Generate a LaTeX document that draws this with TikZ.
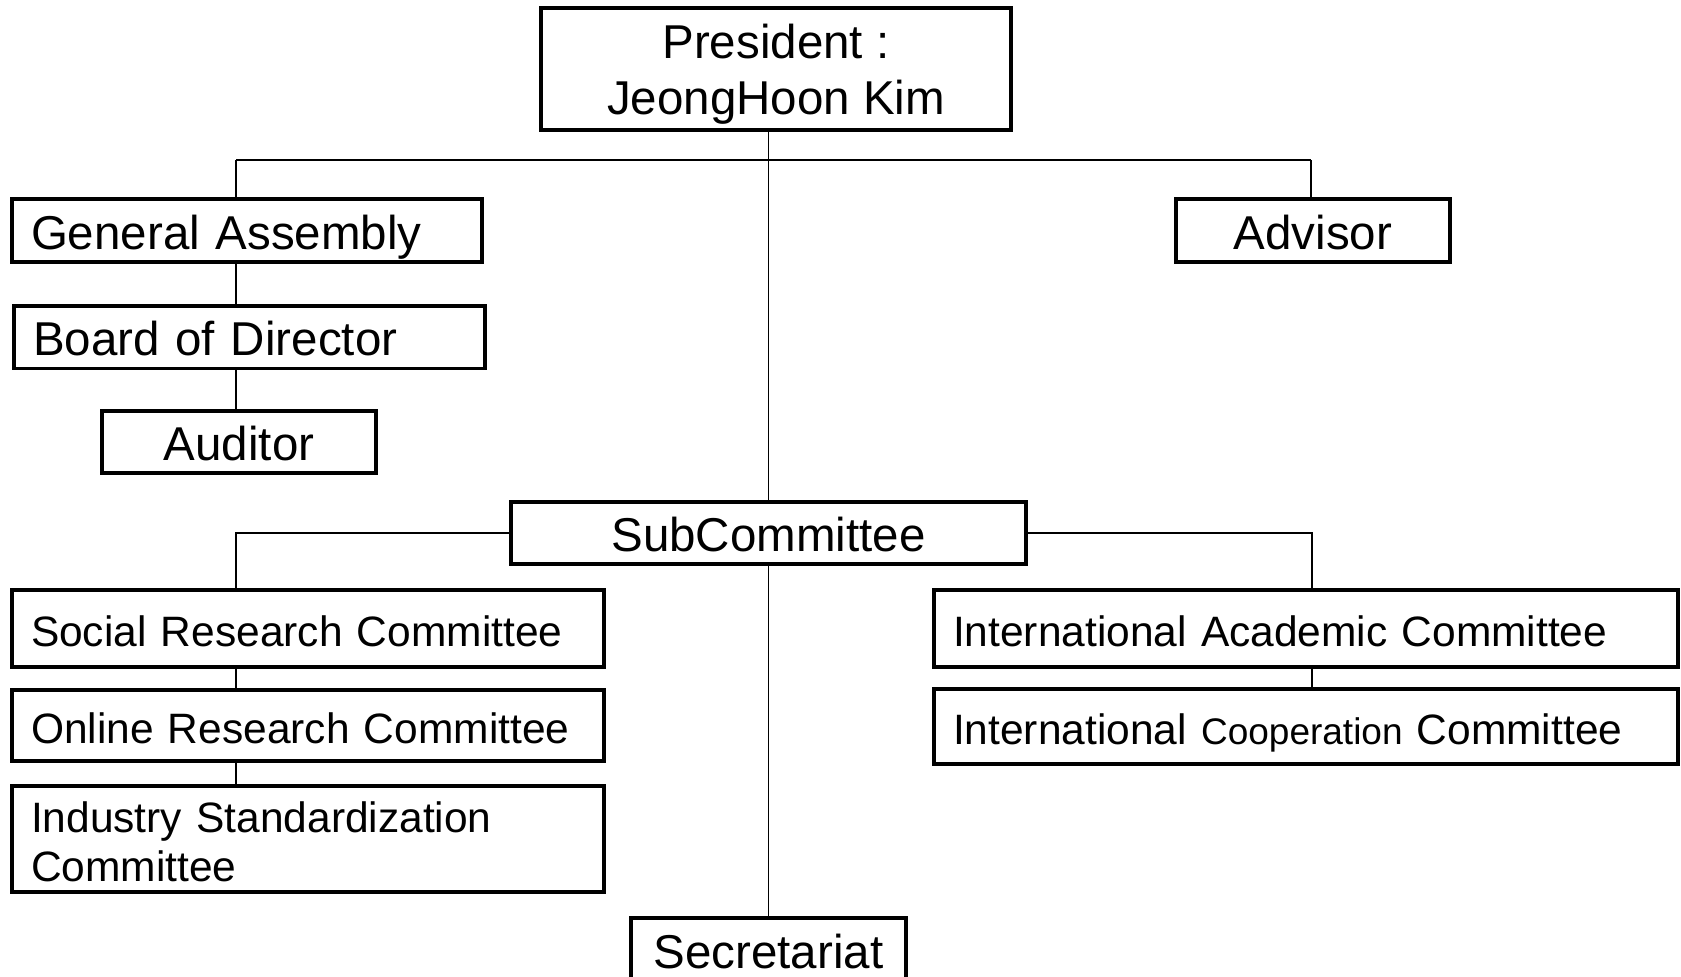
\documentclass[tikz,border=0pt]{standalone}
\usepackage{fontspec}
\setmainfont{Liberation Sans}
\begin{document}
\begin{tikzpicture}[x=1pt,y=-1pt,
  box/.style={draw=black, line width=3.5pt, fill=white, rectangle, inner ysep=0pt, inner xsep=0pt, align=center},
  lbox/.style={box, align=left, inner xsep=19pt},
  big/.style={font=\fontsize{47.5}{56}\selectfont, text height=40pt, text depth=2.4pt},
  small/.style={font=\fontsize{42.5}{49}\selectfont, text height=38pt, text depth=2.8pt},
  conn/.style={draw=black, line width=1.6pt}]
\clip (0,0) rectangle (1681,977);
\fill[white] (0,0) rectangle (1681,977);
% nodes
\node[box, big, text height=101.5pt, text depth=10pt, minimum width=470, minimum height=122] (pres) at (776,69) {President :\\JeongHoon Kim};
\node[lbox, big, text width=432, minimum height=63] (ga) at (247,230.5) {General Assembly};
\node[box, big, minimum width=274, minimum height=63] (adv) at (1313,230.5) {Advisor};
\node[lbox, big, text width=433, minimum height=62.5] (bod) at (249.5,337) {Board of Director};
\node[box, big, minimum width=274, minimum height=62] (aud) at (239,442) {Auditor};
\node[box, big, minimum width=515, minimum height=62] (sub) at (768.5,533) {SubCommittee};
\node[lbox, small, text width=554, minimum height=77] (soc) at (308,628.5) {Social Research Committee};
\node[lbox, small, text width=554, minimum height=71] (onl) at (308,725.5) {Online Research Committee};
\node[lbox, small, text height=35.4pt, text depth=49pt, text width=554, minimum height=106] (ind) at (308,839) {Industry Standardization\\Committee};
\node[lbox, small, text width=706, minimum height=77] (ia) at (1306,628.5) {International Academic Committee};
\node[lbox, small, text width=706, minimum height=75] (ic) at (1306,726.5) {International {\fontsize{37}{44}\selectfont Cooperation} Committee};
\node[box, big, minimum width=275, minimum height=64] (sec) at (768.5,950) {Secretariat};
% connectors
\coordinate (jl) at (236,160);
\coordinate (jr) at (1311,160);
\coordinate (sl) at (236,533);
\coordinate (sr) at (1312,533);
\draw[conn] (jl) -- (jr);
\draw[conn] (sub.north |- pres.south) -- (sub.north);
\draw[conn] (sub.south) -- (sec.north);
\draw[conn] (jl) -- (jl |- ga.north);
\draw[conn] (jr) -- (jr |- adv.north);
\draw[conn] (jl |- ga.south) -- (jl |- bod.north);
\draw[conn] (jl |- bod.south) -- (jl |- aud.north);
\draw[conn] (sub.west) -- (sl) -- (sl |- soc.north);
\draw[conn] (sub.east) -- (sr) -- (sr |- ia.north);
\draw[conn] (sl |- soc.south) -- (sl |- onl.north);
\draw[conn] (sl |- onl.south) -- (sl |- ind.north);
\draw[conn] (sr |- ia.south) -- (sr |- ic.north);
\end{tikzpicture}
\end{document}
